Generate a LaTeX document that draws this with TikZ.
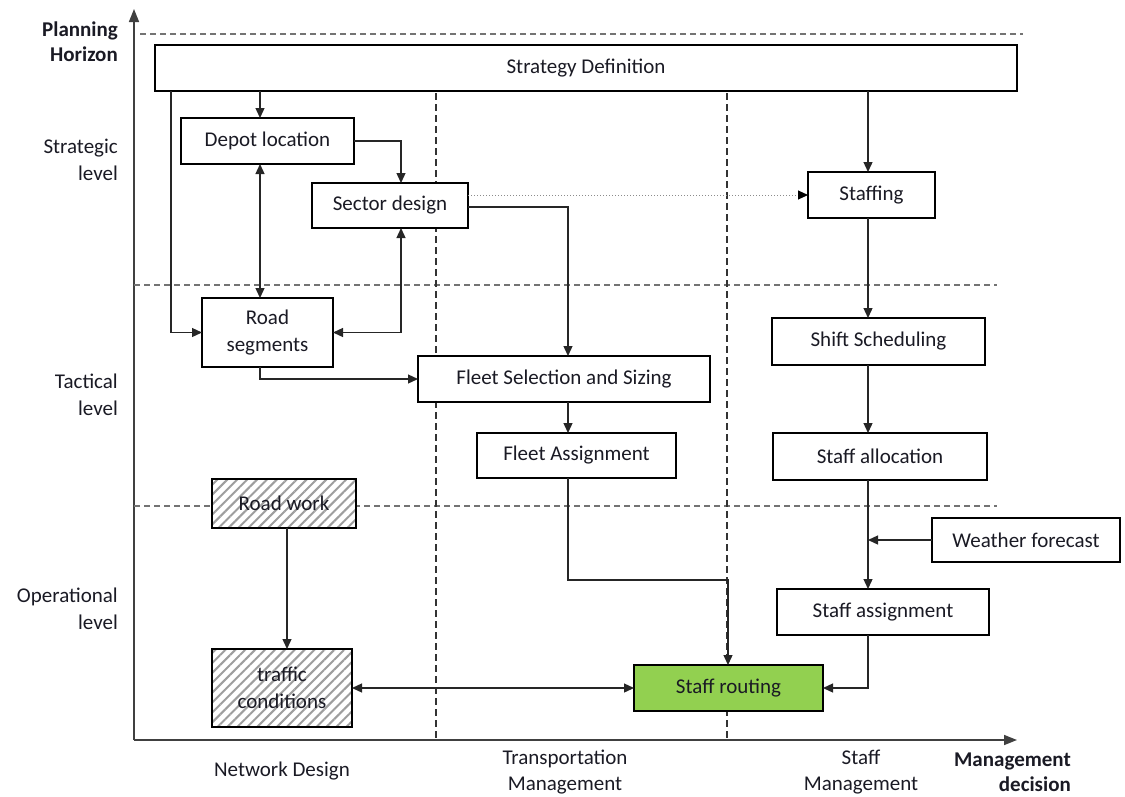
\documentclass[tikz,border=0pt]{standalone}
\usepackage{fontspec}
\setmainfont{Carlito}
\usetikzlibrary{arrows.meta,patterns.meta}
\definecolor{routegreen}{HTML}{92D050}
\definecolor{txt}{HTML}{1A1A24}
\tikzset{
  box/.style={draw=black, line width=2.6pt, fill=white, minimum width=#1, inner sep=0pt, outer sep=0pt, text=txt, align=center},
  hatched/.style={preaction={fill=white}, pattern={Lines[angle=45,distance=7pt,line width=2pt]}, pattern color=black!38},
  conn/.style={line width=1.3pt, draw=black!85, -{Triangle[length=10pt,width=9pt]}},
  both/.style={line width=1.3pt, draw=black!85, {Triangle[length=10pt,width=9pt]}-{Triangle[length=10pt,width=9pt]}},
  dotconn/.style={line width=1pt, draw=black!45, dotted, -{Triangle[length=10pt,width=9pt,color=black,fill=black]}},
  guide/.style={line width=1.4pt, draw=black!55, dash pattern=on 6pt off 4pt},
  vguide/.style={line width=1.3pt, draw=black!80, dash pattern=on 7pt off 4pt},
  axis/.style={line width=1.6pt, draw=black!75, -{Triangle[length=13pt,width=10pt]}},
  lbl/.style={text=txt, align=center, inner sep=0pt},
  bold/.style={font=\fontsize{21}{25}\selectfont\bfseries},
}
\begin{document}
\begin{tikzpicture}[x=1pt,y=-1pt,font=\fontsize{21}{26.5}\selectfont]
\useasboundingbox (0,0) rectangle (1125,796);

% column positions of the connectors
\coordinate (cA) at (171,0);
\coordinate (cB) at (260,0);
\coordinate (cC) at (401,0);
\coordinate (cD) at (568,0);
\coordinate (cE) at (728,0);
\coordinate (cF) at (868,0);
\coordinate (cG) at (287,0);
\coordinate (rowSec) at (0,207);

% axes
\coordinate (origin) at (134,740);
\coordinate (ytop) at (134,9);
\coordinate (xend) at (1017,740);
\draw[axis] (origin) -- (ytop);
\draw[axis] (origin) -- (xend);

% level separators
\coordinate (h0a) at (140,34);   \coordinate (h0b) at (1023,34);
\coordinate (h1a) at (134,285);  \coordinate (h1b) at (997,285);
\coordinate (h2a) at (134,506);  \coordinate (h2b) at (997,506);
\draw[guide] (h0a) -- (h0b);
\draw[guide] (h1a) -- (h1b);
\draw[guide] (h2a) -- (h2b);

% column separators
\coordinate (v1top) at (436,93);
\coordinate (v2top) at (727,93);
\draw[vguide] (v1top) -- (origin -| v1top);
\draw[vguide] (v2top) -- (origin -| v2top);

% boxes
\node[box=862pt, minimum height=46pt] (strat) at (586,68) {Strategy Definition};
\node[box=173pt, minimum height=46pt] (depot) at (267.5,141) {Depot location};
\node[box=156pt, minimum height=45pt] (sector) at (390,205.5) {Sector design};
\node[box=131pt, minimum height=69pt] (road) at (267.5,332.5) {Road\\segments};
\node[box=292pt, minimum height=46pt] (fleetsel) at (564,379) {Fleet Selection and Sizing};
\node[box=199pt, minimum height=45pt] (fleetas) at (576.5,455.5) {Fleet Assignment};
\node[box=127pt, minimum height=46pt] (staffing) at (871.5,195) {Staffing};
\node[box=213pt, minimum height=47pt] (shift) at (878.5,341.5) {Shift Scheduling};
\node[box=214pt, minimum height=47pt] (alloc) at (880,456.5) {Staff allocation};
\node[box=188pt, minimum height=44pt] (weather) at (1026,540) {Weather forecast};
\node[box=212pt, minimum height=46pt] (assign) at (883,612) {Staff assignment};
\node[box=144pt, minimum height=49pt, hatched] (roadwork) at (284,503.5) {Road work};
\node[box=140pt, minimum height=78pt, hatched] (traffic) at (282,688) {traffic\\conditions};
\node[box=189pt, minimum height=46pt, fill=routegreen] (routing) at (728.5,688) {Staff routing};

% connectors
\draw[conn] (strat.south -| cB) -- (depot.north -| cB);
\draw[conn] (strat.south -| cA) |- (road.west);
\draw[both] (depot.south -| cB) -- (road.north -| cB);
\draw[conn] (depot.east) -| (sector.north -| cC);
\draw[both] (sector.south -| cC) |- (road.east);
\draw[dotconn] (sector.east |- staffing.west) -- (staffing.west);
\draw[conn] (sector.east |- rowSec) -| (fleetsel.north -| cD);
\draw[conn] (road.south -| cB) |- (fleetsel.west);
\draw[conn] (fleetsel.south -| cD) -- (fleetas.north -| cD);
\draw[conn] (fleetas.south -| cD) -- ++(0,102) -| (routing.north -| cE);
\draw[conn] (strat.south -| cF) -- (staffing.north -| cF);
\draw[conn] (staffing.south -| cF) -- (shift.north -| cF);
\draw[conn] (shift.south -| cF) -- (alloc.north -| cF);
\draw[conn] (alloc.south -| cF) -- (assign.north -| cF);
\draw[conn] (weather.west) -- (weather.west -| cF);
\draw[conn] (assign.south -| cF) |- (routing.east);
\draw[both] (traffic.east) -- (routing.west);
\draw[conn] (roadwork.south -| cG) -- (traffic.north -| cG);

% axis labels
\node[lbl, anchor=east, align=right, bold] (ph) at (118,42) {Planning\\Horizon};
\node[lbl, anchor=east, align=right] (lstr) at (118,160) {Strategic\\level};
\node[lbl, anchor=east, align=right] (ltac) at (118,395) {Tactical\\level};
\node[lbl, anchor=east, align=right] (lop) at (118,609) {Operational\\level};
\node[lbl] (bnd) at (282,771) {Network Design};
\node[lbl] (btm) at (565,772) {Transportation\\Management};
\node[lbl] (bsm) at (861,772) {Staff\\Management};
\node[lbl, anchor=east, align=right, bold] (md) at (1071,772) {Management\\decision};
\end{tikzpicture}
\end{document}
